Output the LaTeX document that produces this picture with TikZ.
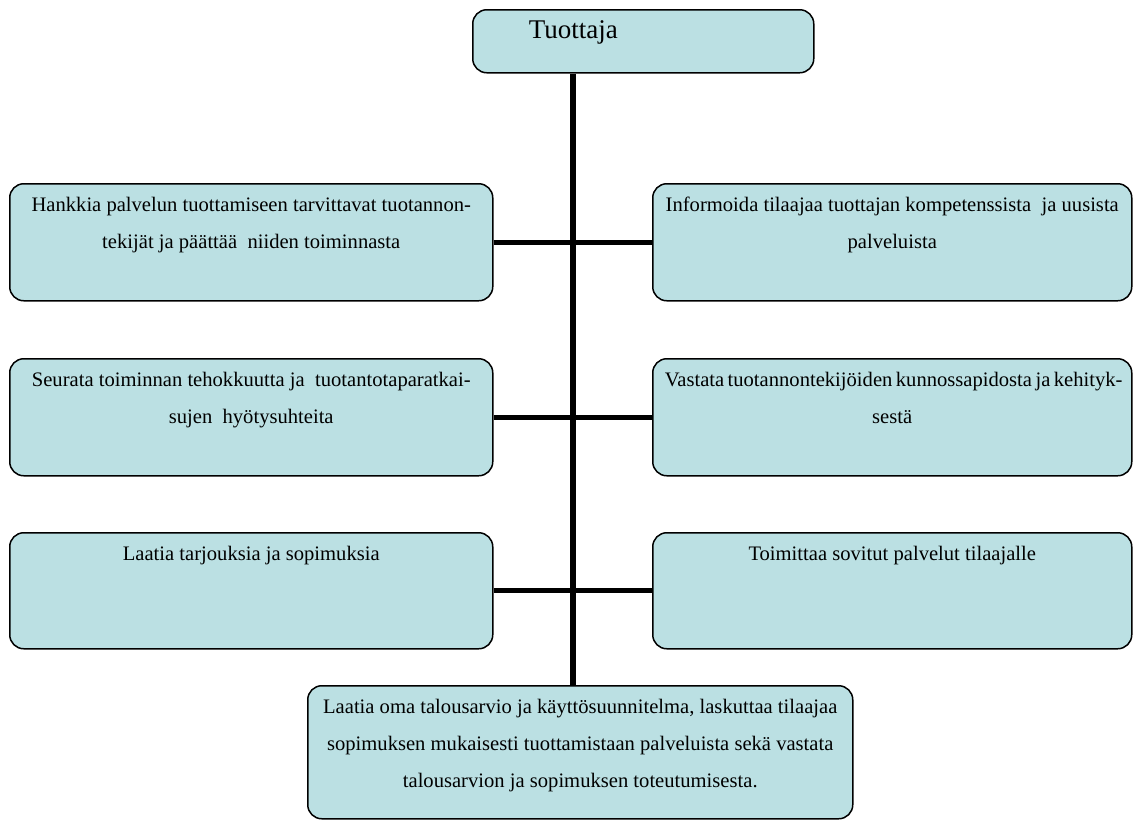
\documentclass[tikz,border=0pt]{standalone}
\usepackage{fontspec}
\setmainfont{Liberation Serif}
\definecolor{boxfill}{HTML}{BBE0E3}
\tikzset{
  card/.style={draw=black, line width=1.5pt, fill=boxfill, rounded corners=14pt, inner sep=0pt, anchor=north west},
  link/.style={line width=5pt},
  spineln/.style={line width=6pt}
}
\newcommand{\cardtext}[3]{\parbox[b][#1][t]{#2}{\centering\fontsize{20.6}{37}\selectfont\rule{0pt}{28pt}#3\par}}
\begin{document}
\begin{tikzpicture}[x=1pt,y=-1pt]
\useasboundingbox (0,0) rectangle (1135,820);
\coordinate (spine) at (573,0);
% top
\node[card] (top) at (472,9) {\parbox[b][63pt][t]{341pt}{\noindent\hspace*{56pt}\fontsize{27}{30}\selectfont\rule{0pt}{29pt}Tuottaja}};
% left column
\node[card] (L1) at (9,183) {\cardtext{117pt}{483pt}{Hankkia palvelun tuottamiseen tarvittavat tuotannon-\\tekijät ja päättää\ \ niiden toiminnasta}};
\node[card] (L2) at (9,358) {\cardtext{117pt}{483pt}{Seurata toiminnan tehokkuutta ja\ \ tuotantotaparatkai-\\sujen\ \ hyötysuhteita}};
\node[card] (L3) at (9,532) {\cardtext{116pt}{483pt}{Laatia tarjouksia ja sopimuksia}};
% right column
\node[card] (R1) at (652,183) {\cardtext{117pt}{479pt}{Informoida tilaajaa tuottajan kompetenssista\ \ ja uusista\\palveluista}};
\node[card] (R2) at (652,358) {\cardtext{117pt}{479pt}{\makebox[455pt][s]{Vastata tuotannontekijöiden kunnossapidosta ja kehityk-}\\sestä}};
\node[card] (R3) at (652,532) {\cardtext{116pt}{479pt}{Toimittaa sovitut palvelut tilaajalle}};
% bottom
\node[card] (bottom) at (307,685) {\cardtext{133pt}{545pt}{Laatia oma talousarvio ja käyttösuunnitelma, laskuttaa tilaajaa\\sopimuksen mukaisesti tuottamistaan palveluista sekä vastata\\talousarvion ja sopimuksen toteutumisesta.}};
% connectors
\draw[spineln] (top.south -| spine) -- (bottom.north -| spine);
\draw[link] (L1.east) -- (R1.west);
\draw[link] (L2.east) -- (R2.west);
\draw[link] (L3.east) -- (R3.west);
\end{tikzpicture}
\end{document}
